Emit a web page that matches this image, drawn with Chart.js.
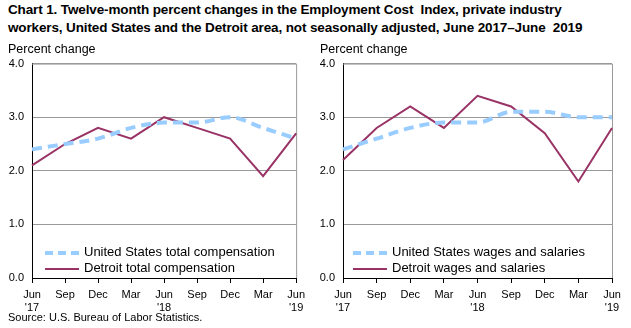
<!DOCTYPE html>
<html>
<head>
<meta charset="utf-8">
<script src="https://cdn.jsdelivr.net/npm/chart.js@4"></script>
<style>
  body { margin: 0; background: #fff; font-family: "Liberation Sans", Arial, sans-serif; }
  #wrap { position: relative; width: 631px; height: 328px; overflow: hidden; }
  .abs { position: absolute; white-space: nowrap; color: #000; }
  #title { left: 8px; top: 1px; font-weight: bold; font-size: 13.5px; line-height: 18px; letter-spacing: -0.13px; }
  .ylab { top: 42px; font-size: 12.5px; }
  #source { left: 8px; top: 311px; font-size: 11px; }
  .leg { font-size: 13px; line-height: 16px; }
  .sample { display: inline-block; width: 34px; vertical-align: middle; margin-right: 5px; }
  .dash { border-top: 4px dashed #99ccff; }
  .solid { border-top: 2px solid #993366; }
</style>
</head>
<body>
<div id="wrap">
  <div id="title" class="abs">Chart 1. Twelve-month percent changes in the Employment Cost&nbsp; Index, private industry<br>workers, United States and the Detroit area, not seasonally adjusted, June 2017–June&nbsp; 2019</div>
  <canvas id="leftChart" class="abs" style="left:0;top:49px"></canvas>
  <canvas id="rightChart" class="abs" style="left:311px;top:49px"></canvas>
  <div class="abs ylab" style="left:8px">Percent change</div>
  <div class="abs ylab" style="left:320px">Percent change</div>
  <div class="abs leg" style="left:45px;top:244px">
    <div><span class="sample dash"></span>United States total compensation</div>
    <div><span class="sample solid"></span>Detroit total compensation</div>
  </div>
  <div class="abs leg" style="left:353px;top:244px">
    <div><span class="sample dash"></span>United States wages and salaries</div>
    <div><span class="sample solid"></span>Detroit wages and salaries</div>
  </div>
  <div id="source" class="abs">Source: U.S. Bureau of Labor Statistics.</div>
</div>
<script>
const quarters = [['Jun', "'17"], 'Sep', 'Dec', 'Mar', ['Jun', "'18"], 'Sep', 'Dec', 'Mar', ['Jun', "'19"]];
const usTotalComp = [2.4, 2.5, 2.6, 2.8, 2.9, 2.9, 3.0, 2.8, 2.6];
const detroitTotalComp = [2.1, 2.5, 2.8, 2.6, 3.0, 2.8, 2.6, 1.9, 2.7];
const usWages = [2.4, 2.6, 2.8, 2.9, 2.9, 3.1, 3.1, 3.0, 3.0];
const detroitWages = [2.2, 2.8, 3.2, 2.8, 3.4, 3.2, 2.7, 1.8, 2.8];

// gray frame on top/right of the plot
const framePlugin = {
    id: 'frame',
    beforeDatasetsDraw(chart) {
        const { ctx, chartArea: a } = chart;
        ctx.save();
        ctx.strokeStyle = '#999999';
        ctx.lineWidth = 1;
        ctx.beginPath();
        ctx.moveTo(a.left, a.top + 0.5);
        ctx.lineTo(a.right + 0.5, a.top + 0.5);
        ctx.lineTo(a.right + 0.5, a.bottom);
        ctx.stroke();
        ctx.restore();
    },
};

function makeChart(id, width, padRight, usData, detData) {
    const canvas = document.getElementById(id);
    canvas.width = width;
    canvas.height = 277;
    canvas.style.width = width + 'px';
    canvas.style.height = '277px';
    return new Chart(canvas.getContext('2d'), {
        type: 'line',
        data: {
            labels: quarters,
            datasets: [
                {
                    label: 'US',
                    data: usData,
                    borderColor: '#99ccff',
                    borderWidth: 4,
                    borderDash: [10, 6],
                    cubicInterpolationMode: 'monotone',
                    pointRadius: 0,
                    fill: false,
                },
                {
                    label: 'Detroit',
                    data: detData,
                    borderColor: '#993366',
                    borderWidth: 2,
                    tension: 0,
                    pointRadius: 0,
                    fill: false,
                },
            ],
        },
        options: {
            responsive: false,
            animation: false,
            layout: { padding: { left: 0, right: padRight, top: 2, bottom: 0 } },
            plugins: { legend: { display: false }, tooltip: { enabled: false } },
            scales: {
                x: {
                    offset: false,
                    grid: { display: true, drawOnChartArea: false, tickLength: 5, color: '#000' },
                    border: { color: '#000', width: 1 },
                    ticks: {
                        color: '#000',
                        font: { family: 'Liberation Sans', size: 11 },
                        padding: 5,
                        maxRotation: 0,
                        autoSkip: false,
                    },
                    afterFit: (s) => { s.height = 48; },
                },
                y: {
                    min: 0,
                    max: 4,
                    grid: { color: '#999999', drawTicks: false },
                    border: { color: '#000', width: 1 },
                    ticks: {
                        stepSize: 1,
                        color: '#000',
                        padding: 8,
                        font: { family: 'Liberation Sans', size: 11 },
                        callback: (v) => v.toFixed(1),
                    },
                    afterFit: (s) => { s.width = 32; },
                },
            },
        },
        plugins: [framePlugin],
    });
}

makeChart('leftChart', 310, 12, usTotalComp, detroitTotalComp);
makeChart('rightChart', 320, 19, usWages, detroitWages);
</script>
</body>
</html>
